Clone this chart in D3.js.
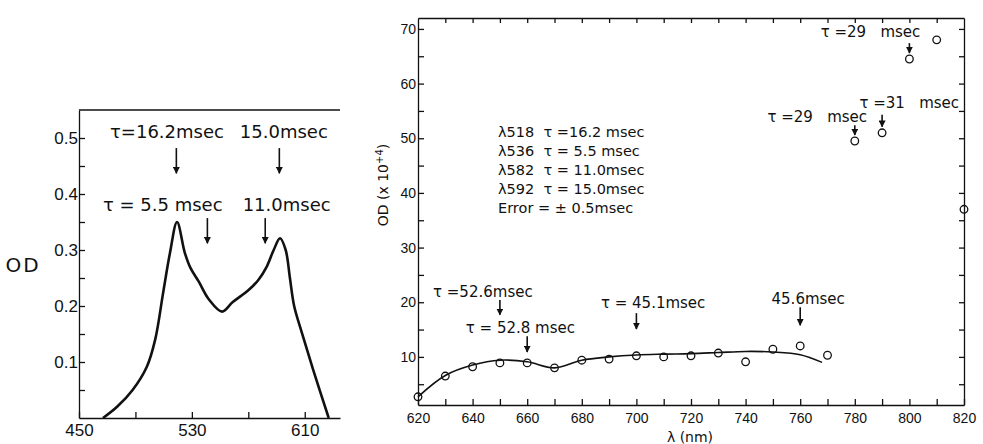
<!DOCTYPE html>
<html>
<head>
<meta charset="utf-8">
<script src="https://cdn.jsdelivr.net/npm/d3@7"></script>
<style>
  body { margin: 0; background: #fff; }
  svg { font-family: "DejaVu Sans", sans-serif; }
  .axis path, .axis line { stroke: #111; stroke-width: 1.3; }
  .axis text { fill: #111; }
  text { white-space: pre; fill: #111; }
</style>
</head>
<body>
<div id="chart"></div>
<script>
// left panel: absorption spectrum
var specWl = [467, 477, 488, 498, 504, 509.6, 514.5, 519.5, 525, 529, 535, 542, 551.4, 559, 570, 577, 583, 588, 592.5, 596.5, 599.5, 602.5, 608, 616, 627];
var specOD = [0, 0.02, 0.05, 0.091, 0.14, 0.223, 0.295, 0.35, 0.295, 0.268, 0.243, 0.212, 0.19, 0.207, 0.228, 0.246, 0.27, 0.3, 0.321, 0.3, 0.25, 0.2, 0.152, 0.086, 0];
var specXTicks = [450, 530, 610];
var specYTicks = [0.1, 0.2, 0.3, 0.4, 0.5];

// left panel notes: text, text start wl, text baseline OD, arrow wl, arrow from, arrow to
var specNoteText = ['\u03c4=16.2msec', '15.0msec', '\u03c4 = 5.5 msec', '11.0msec'];
var specNoteX = [472, 564, 467, 566];
var specNoteY = [0.5, 0.5, 0.37, 0.37];
var specArrowWl = [519, 592, 541, 582];
var specArrowFrom = [0.482, 0.482, 0.357, 0.357];
var specArrowTo = [0.437, 0.437, 0.312, 0.312];

// right panel: OD x 10^4 vs wavelength
var ptWl = [620, 630, 640, 650, 660, 670, 680, 690, 700, 710, 720, 730, 740, 750, 760, 770, 780, 790, 800, 810, 820];
var ptOD = [2.7, 6.5, 8.2, 8.9, 8.9, 8.0, 9.4, 9.6, 10.2, 10.0, 10.2, 10.7, 9.1, 11.4, 12.0, 10.3, 49.5, 51.0, 64.5, 68.0, 37.0];
var fitWl = [620, 630, 640, 650, 660, 670, 680, 690, 700, 710, 720, 730, 740, 750, 760, 768];
var fitOD = [2.7, 6.6, 8.5, 9.4, 9.1, 8.0, 9.4, 10.0, 10.35, 10.5, 10.6, 10.8, 11.0, 10.9, 10.4, 9.0];
var nmTicks = [620, 640, 660, 680, 700, 720, 740, 760, 780, 800, 820];
var odTicks = [10, 20, 30, 40, 50, 60, 70];

var noteText = ['\u03c4 =52.6msec', '\u03c4 = 52.8 msec', '\u03c4 = 45.1msec', '45.6msec', '\u03c4 =29   msec', '\u03c4 =31   msec', '\u03c4 =29   msec'];
var noteX = [625.5, 637.5, 687, 749.5, 748, 781.7, 767.5];
var noteY = [21, 14.4, 18.9, 19.7, 53, 55.5, 68.5];
var arrowWl = [650, 660, 700, 760, 780, 790, 800];
var arrowFrom = [20.4, 13.8, 18, 19.1, 52.4, 54.3, 67.4];
var arrowTo = [17.7, 10.9, 15.1, 15.8, 50.6, 52.1, 65.6];

var legendLines = ['\u03bb518  \u03c4 =16.2 msec', '\u03bb536  \u03c4 = 5.5 msec', '\u03bb582  \u03c4 = 11.0msec', '\u03bb592  \u03c4 = 15.0msec', 'Error = \u00b1 0.5msec'];

var svg = d3.select('#chart').append('svg')
  .attr('width', 983)
  .attr('height', 444);

svg.append('defs').append('marker')
  .attr('id', 'head')
  .attr('viewBox', '0 0 10 10')
  .attr('refX', 9).attr('refY', 5)
  .attr('markerWidth', 7).attr('markerHeight', 7)
  .attr('markerUnits', 'userSpaceOnUse')
  .attr('orient', 'auto')
  .append('path')
  .attr('d', 'M0,0L10,5L0,10Z')
  .attr('fill', '#111');

function arrow(g, x, y0, y1) {
  g.append('line')
    .attr('x1', x).attr('x2', x)
    .attr('y1', y0).attr('y2', y1)
    .attr('stroke', '#111')
    .attr('stroke-width', 1.6)
    .attr('marker-end', 'url(#head)');
}

// ---- left panel ----
var x1 = d3.scaleLinear().domain([450, 635]).range([79, 340]);
var y1 = d3.scaleLinear().domain([0, 0.55]).range([418, 110]);
var left = svg.append('g');

left.append('g')
  .attr('class', 'axis')
  .attr('transform', 'translate(0,' + y1(0) + ')')
  .call(d3.axisBottom(x1).tickValues([450, 490, 530, 570, 610]).tickSizeInner(-6).tickSizeOuter(0)
    .tickPadding(6).tickFormat(function(d) { return specXTicks.indexOf(d) >= 0 ? d : ''; }))
  .selectAll('text').style('font-size', '17px');

left.append('g')
  .attr('class', 'axis')
  .attr('transform', 'translate(' + x1(450) + ',0)')
  .call(d3.axisLeft(y1).tickValues(d3.range(1, 11).map(function(i) { return i * 0.05; }))
    .tickSizeInner(-6).tickSizeOuter(0).tickPadding(1)
    .tickFormat(function(d) {
      var r = Math.round(d * 10) / 10;
      return Math.abs(r - d) < 1e-6 && specYTicks.indexOf(r) >= 0 ? d3.format('.1f')(d) : '';
    }))
  .selectAll('text').style('font-size', '17px');

left.append('line')
  .attr('x1', x1(450)).attr('x2', x1(635))
  .attr('y1', y1(0.55)).attr('y2', y1(0.55))
  .attr('stroke', '#111').attr('stroke-width', 1.3);

left.append('path')
  .datum(d3.zip(specWl, specOD))
  .attr('fill', 'none')
  .attr('stroke', '#111')
  .attr('stroke-width', 2.6)
  .attr('d', d3.line()
    .x(function(d) { return x1(d[0]); })
    .y(function(d) { return y1(d[1]); })
    .curve(d3.curveCatmullRom));

specNoteText.forEach(function(t, i) {
  left.append('text')
    .attr('x', x1(specNoteX[i]))
    .attr('y', y1(specNoteY[i]))
    .style('font-size', '18px')
    .text(t);
  arrow(left, x1(specArrowWl[i]), y1(specArrowFrom[i]), y1(specArrowTo[i]));
});

left.append('text')
  .attr('x', 23).attr('y', 272)
  .attr('text-anchor', 'middle')
  .style('font-size', '20px')
  .style('letter-spacing', '2px')
  .text('OD');

// ---- right panel ----
var x2 = d3.scaleLinear().domain([620, 820]).range([418, 964]);
var y2 = d3.scaleLinear().domain([1.2, 72]).range([405, 18]);
var right = svg.append('g');

right.append('g')
  .attr('class', 'axis')
  .attr('transform', 'translate(0,' + y2(1.2) + ')')
  .call(d3.axisBottom(x2).tickValues(d3.range(620, 821, 10)).tickSizeInner(-6).tickSizeOuter(0)
    .tickPadding(8).tickFormat(function(d) { return nmTicks.indexOf(d) >= 0 ? d : ''; }))
  .selectAll('text').style('font-size', '14px');

right.append('g')
  .attr('class', 'axis')
  .attr('transform', 'translate(0,' + y2(72) + ')')
  .call(d3.axisTop(x2).tickValues(d3.range(630, 820, 10)).tickSizeInner(-5).tickSizeOuter(0).tickFormat(''));

right.append('g')
  .attr('class', 'axis')
  .attr('transform', 'translate(' + x2(620) + ',0)')
  .call(d3.axisLeft(y2).tickValues(d3.range(5, 71, 5)).tickSizeInner(-6).tickSizeOuter(0).tickPadding(2)
    .tickFormat(function(d) { return odTicks.indexOf(d) >= 0 ? d : ''; }))
  .selectAll('text').style('font-size', '14px');

right.append('g')
  .attr('class', 'axis')
  .attr('transform', 'translate(' + x2(820) + ',0)')
  .call(d3.axisRight(y2).tickValues(d3.range(5, 71, 5)).tickSizeInner(-5).tickSizeOuter(0).tickFormat(''));

right.append('path')
  .datum(d3.zip(fitWl, fitOD))
  .attr('fill', 'none')
  .attr('stroke', '#111')
  .attr('stroke-width', 1.6)
  .attr('d', d3.line()
    .x(function(d) { return x2(d[0]); })
    .y(function(d) { return y2(d[1]); })
    .curve(d3.curveCatmullRom));

right.selectAll('circle.pt')
  .data(d3.zip(ptWl, ptOD))
  .enter().append('circle')
  .attr('class', 'pt')
  .attr('cx', function(d) { return x2(d[0]); })
  .attr('cy', function(d) { return y2(d[1]); })
  .attr('r', 3.8)
  .attr('fill', 'none')
  .attr('stroke', '#111')
  .attr('stroke-width', 1.3);

noteText.forEach(function(t, i) {
  right.append('text')
    .attr('x', x2(noteX[i]))
    .attr('y', y2(noteY[i]))
    .style('font-size', '15px')
    .text(t);
  arrow(right, x2(arrowWl[i]), y2(arrowFrom[i]), y2(arrowTo[i]));
});

right.append('g').selectAll('text')
  .data(legendLines)
  .enter().append('text')
  .attr('x', 498)
  .attr('y', function(d, i) { return 137 + i * 19; })
  .style('font-size', '14.5px')
  .text(function(d) { return d; });

var yl = right.append('text')
  .attr('transform', 'translate(388,185) rotate(-90)')
  .attr('text-anchor', 'middle')
  .style('font-size', '14px');
yl.append('tspan').text('OD (x 10');
yl.append('tspan').attr('baseline-shift', 'super').style('font-size', '10px').text('+4');
yl.append('tspan').text(')');

right.append('text')
  .attr('x', 690).attr('y', 442)
  .attr('text-anchor', 'middle')
  .style('font-size', '14px')
  .text('\u03bb (nm)');
</script>
</body>
</html>
